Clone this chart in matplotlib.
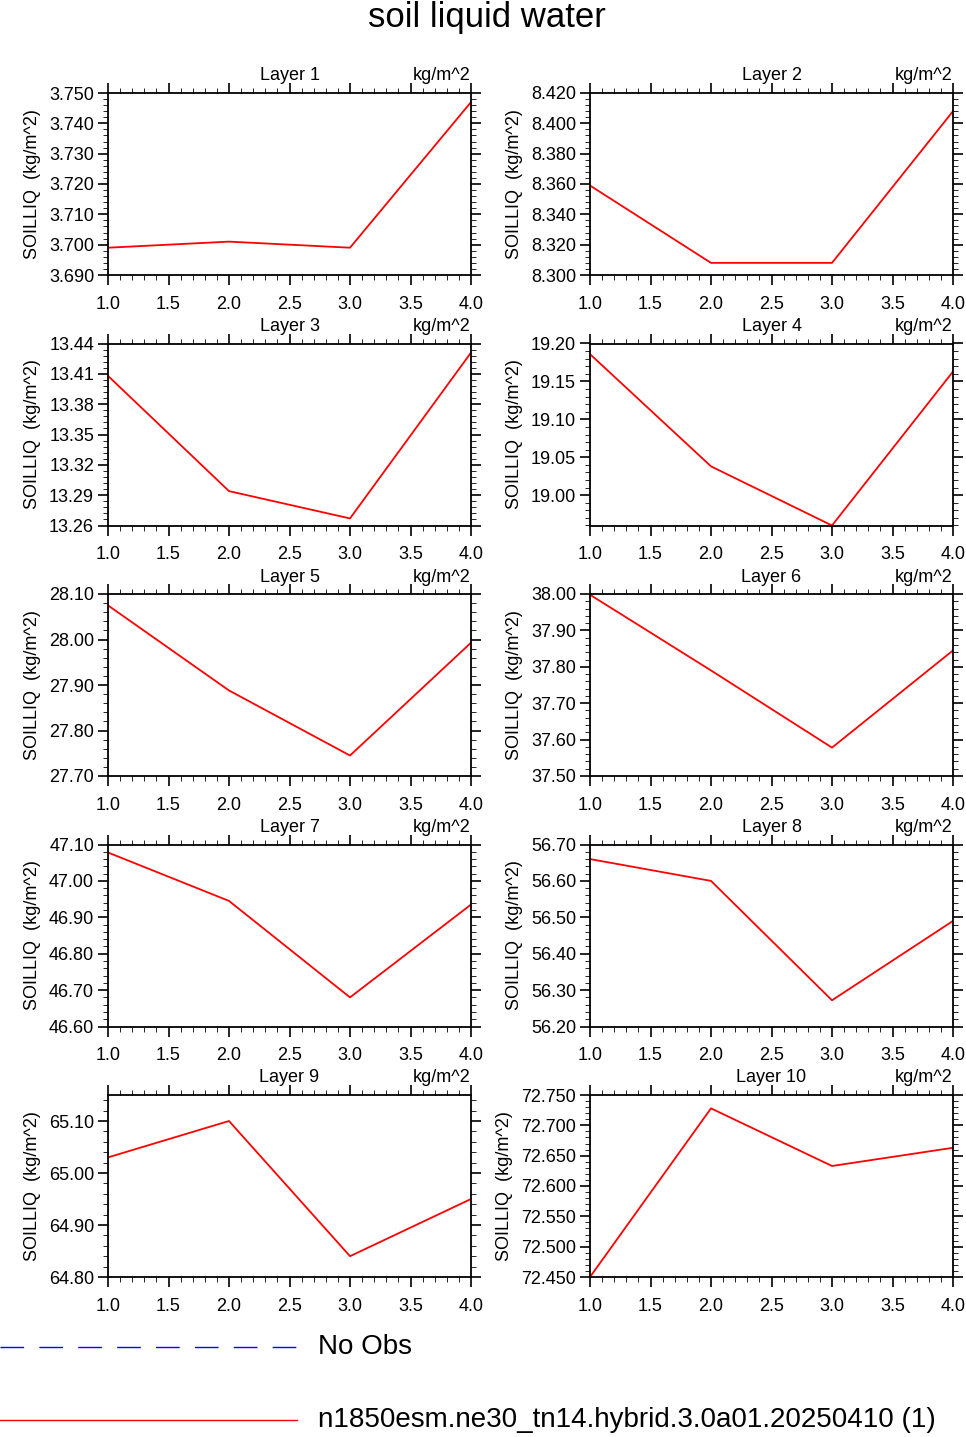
import numpy as np
import matplotlib.pyplot as plt
from matplotlib.ticker import MultipleLocator, FormatStrFormatter

plt.rcParams['font.family'] = ['Liberation Sans', 'DejaVu Sans']

x = [1.0, 2.0, 3.0, 4.0]
layer_vals = [
    [3.699, 3.701, 3.699, 3.747],
    [8.359, 8.308, 8.308, 8.408],
    [13.408, 13.294, 13.267, 13.431],
    [19.186, 19.038, 18.960, 19.163],
    [28.075, 27.888, 27.745, 27.993],
    [37.998, 37.790, 37.578, 37.845],
    [47.078, 46.945, 46.680, 46.935],
    [56.660, 56.600, 56.272, 56.490],
    [65.030, 65.100, 64.840, 64.950],
    [72.450, 72.728, 72.633, 72.663],
]
ylims = [(3.690, 3.750), (8.300, 8.420), (13.26, 13.44), (18.96, 19.20),
         (27.70, 28.10), (37.50, 38.00), (46.60, 47.10), (56.20, 56.70),
         (64.80, 65.15), (72.450, 72.750)]
ysteps = [0.010, 0.020, 0.03, 0.05, 0.10, 0.10, 0.10, 0.10, 0.10, 0.050]
yfmts = ['%.3f', '%.3f', '%.2f', '%.2f', '%.2f', '%.2f', '%.2f', '%.2f', '%.2f', '%.3f']

W, H = 966, 1437
fig = plt.figure(figsize=(W / 100, H / 100), dpi=100)
fig.text(487 / W, 1 - 18 / H, 'soil liquid water', ha='center', va='center', fontsize=25)

for i, vals in enumerate(layer_vals):
    col, row = i % 2, i // 2
    left = 108 if col == 0 else 590
    top = 93 + row * 250.5
    ax = fig.add_axes([left / W, 1 - (top + 182) / H, 363 / W, 182 / H])
    ax.plot(x, vals, color='red', lw=1.3)
    ax.set_xlim(1, 4)
    ax.set_ylim(*ylims[i])
    ax.xaxis.set_major_locator(MultipleLocator(0.5))
    ax.xaxis.set_minor_locator(MultipleLocator(0.1))
    ax.xaxis.set_major_formatter(FormatStrFormatter('%.1f'))
    ax.yaxis.set_major_locator(MultipleLocator(ysteps[i]))
    ax.yaxis.set_minor_locator(MultipleLocator(ysteps[i] / 5))
    ax.yaxis.set_major_formatter(FormatStrFormatter(yfmts[i]))
    ax.tick_params(which='both', direction='out', top=True, right=True, labelsize=13)
    ax.tick_params(which='major', length=7, width=1.2, pad=8)
    ax.tick_params(which='minor', length=3.5)
    ax.tick_params(axis='y', pad=3)
    for s in ax.spines.values():
        s.set_linewidth(1.3)
    ax.set_ylabel('SOILLIQ  (kg/m^2)', fontsize=13, labelpad=6)
    ax.set_title('Layer %d' % (i + 1), fontsize=13, pad=9)
    ax.set_title('kg/m^2', loc='right', fontsize=13, pad=9)

fig.add_artist(plt.Line2D([0, 297 / W], [1 - 1347 / H] * 2, color='blue', ls=(0, (17, 11)), lw=1))
fig.text(318 / W, 1 - 1347 / H, 'No Obs', va='center', fontsize=20)
fig.add_artist(plt.Line2D([0, 297 / W], [1 - 1420 / H] * 2, color='red', lw=1))
fig.text(318 / W, 1 - 1420 / H, 'n1850esm.ne30_tn14.hybrid.3.0a01.20250410 (1)', va='center', fontsize=20)

fig.savefig('out.png', dpi=100)
